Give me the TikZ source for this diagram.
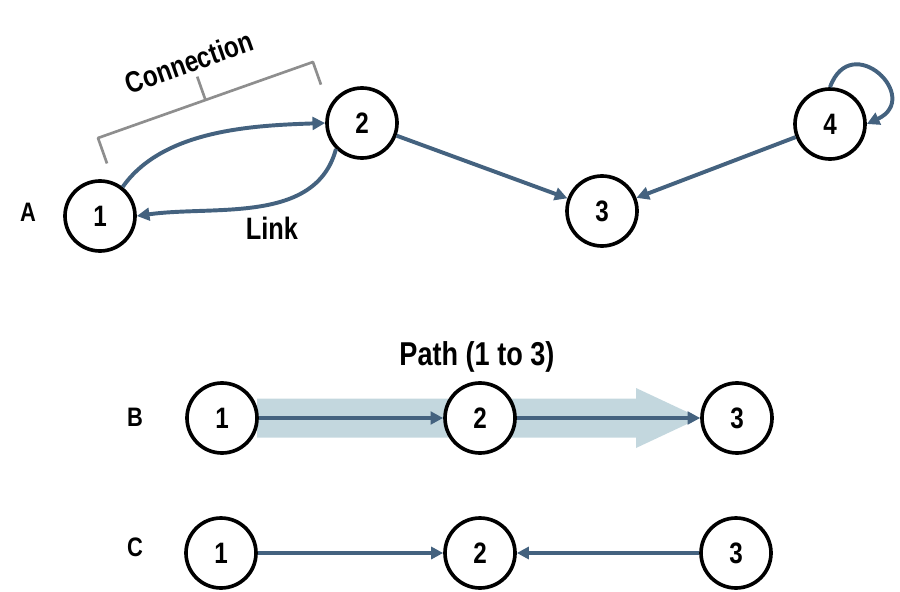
\documentclass[tikz,border=0pt]{standalone}
\usepackage{fontspec}
\setmainfont[FakeStretch=0.82]{Liberation Sans}
\usetikzlibrary{arrows.meta,positioning,calc}
\definecolor{Ink}{HTML}{000000}
\definecolor{Edge}{HTML}{44627F}
\definecolor{BandFill}{HTML}{C3D7DE}
\definecolor{Bracket}{HTML}{8E8E8E}

\begin{document}
\begin{tikzpicture}[x=1cm,y=1cm,
  vertex/.style={circle,draw=Ink,fill=white,line width=2.6pt,minimum size=1.75cm,inner sep=0pt,font=\fontsize{21}{25}\selectfont\bfseries},
  link/.style={draw=Edge,line width=2.8pt,-{Triangle[length=9pt,width=9pt]}},
  thinlink/.style={draw=Edge,line width=2.2pt,-{Triangle[length=8.5pt,width=8.5pt]}},
  rowlabel/.style={font=\fontsize{19}{23}\selectfont\bfseries},
  caption/.style={font=\fontsize{22}{26}\selectfont\bfseries}]
\useasboundingbox (0,0) rectangle (22.5,14.775);
% path band behind row B
\fill[BandFill] (6.425,3.8375) -- (15.9,3.8375) -- (15.9,3.575) -- (17.5,4.325)
  -- (15.9,5.075) -- (15.9,4.8125) -- (6.425,4.8125) -- cycle;
% row A
\node[rowlabel] (labA) at (0.70,9.475) {A};
\node[vertex] (A1) at (2.500,9.375) {1};
\node[vertex] (A2) at (9.050,11.700) {2};
\node[vertex] (A3) at (15.050,9.500) {3};
\node[vertex] (A4) at (20.750,11.675) {4};
\draw[link] (A1.52) to[out=55,in=182,looseness=0.85] (A2.west);
\draw[link] (A2.225) to[out=-105,in=8,looseness=0.95] (A1.east);
\draw[link] (A2) -- (A3);
\draw[link] (A4) -- (A3);
\draw[link] (A4.north) to[out=70,in=25,distance=1.55cm] (A4.east);
\node[caption] (linklabel) at (6.80,9.075) {Link};
\begin{scope}[shift={(2.45,11.325)},rotate=19.47]
\draw[Bracket,line width=1.9pt,line join=round] (0,-0.675) -- (0,0) -- (2.85,0) -- (2.85,0.62);
\draw[Bracket,line width=1.9pt,line join=round] (2.85,0) -- (5.7,0) -- (5.7,-0.6);
\end{scope}
\node[caption,font=\fontsize{21}{25}\selectfont\bfseries,rotate=19.47] (connlabel) at (4.725,13.225) {Connection};
% row B
\node[caption,font=\fontsize{23.5}{28}\selectfont\bfseries] (pathlabel) at (11.925,5.85) {Path (1 to 3)};
\node[rowlabel] (labB) at (3.375,4.350) {B};
\node[vertex] (B1) at (5.550,4.325) {1};
\node[vertex] (B2) at (12.000,4.325) {2};
\node[vertex] (B3) at (18.425,4.325) {3};
\draw[link] (B1) -- (B2);
\draw[link] (B2) -- (B3);
% row C
\node[rowlabel] (labC) at (3.375,1.100) {C};
\node[vertex] (C1) at (5.525,0.950) {1};
\node[vertex] (C2) at (12.000,0.950) {2};
\node[vertex] (C3) at (18.400,0.950) {3};
\draw[thinlink] (C1) -- (C2);
\draw[thinlink] (C3) -- (C2);
\end{tikzpicture}
\end{document}
